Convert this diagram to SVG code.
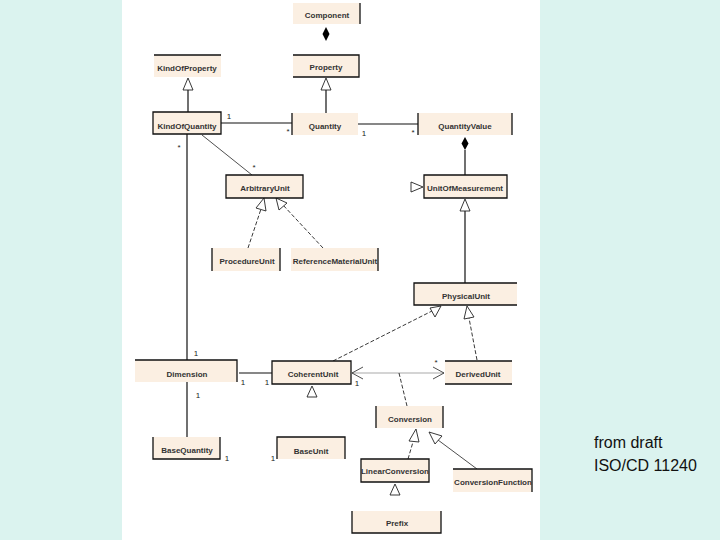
<svg xmlns="http://www.w3.org/2000/svg" width="720" height="540" viewBox="0 0 720 540">
<defs>
<style>
.bg{fill:#dbf3ef}
.panel{fill:#ffffff}
.box{fill:#fbefe2}
.bd{fill:none;stroke:#111;stroke-width:1.3}
.lbl{font-family:"Liberation Sans",Arial,sans-serif;font-size:8px;font-weight:bold;fill:#333;text-anchor:middle}
.m{font-family:"Liberation Sans",Arial,sans-serif;font-size:8px;fill:#222;text-anchor:middle}
.ln{fill:none;stroke:#111;stroke-width:1.2}
.thin{fill:none;stroke:#222;stroke-width:0.8}
.dash{fill:none;stroke:#222;stroke-width:0.9;stroke-dasharray:4,2}
.gray{fill:none;stroke:#aaa;stroke-width:1.2}
.tri{fill:#fff;stroke:#222;stroke-width:0.9}
.dia{fill:#000}
.note{font-family:"Liberation Sans",Arial,sans-serif;font-size:16px;fill:#111}
</style>
</defs>
<rect class="bg" x="0" y="0" width="720" height="540"/>
<rect class="panel" x="122" y="0" width="418" height="540"/>

<g id="connectors">
<!-- Component - Property composition -->
<path class="dia" d="M326,27 L329.5,34 L326,41 L322.5,34 Z"/>
<!-- KindOfProperty <- KindOfQuantity -->
<path class="ln" d="M188,90 V112"/>
<path class="tri" d="M188,78 L193,90 L183,90 Z"/>
<!-- Property <- Quantity -->
<path class="ln" d="M326,90 V113"/>
<path class="tri" d="M326,78 L331,90 L321,90 Z"/>
<!-- KindOfQuantity - Quantity -->
<path class="ln" d="M221,123 H292"/>
<text class="m" x="229" y="119">1</text>
<text class="m" x="288" y="134">*</text>
<!-- Quantity - QuantityValue -->
<path class="ln" d="M358,124 H418"/>
<text class="m" x="364" y="136">1</text>
<text class="m" x="413" y="135">*</text>
<!-- QuantityValue - UnitOfMeasurement composition -->
<path class="ln" d="M465,150 V175"/>
<path class="dia" d="M465,137 L468.5,143.5 L465,150 L461.5,143.5 Z"/>
<!-- small triangle left of UnitOfMeasurement -->
<path class="tri" d="M411,182 L423,187 L411,192 Z"/>
<!-- KindOfQuantity - Dimension -->
<path class="ln" d="M187,134 V360"/>
<text class="m" x="179" y="150">*</text>
<text class="m" x="196" y="356">1</text>
<!-- KindOfQuantity - ArbitraryUnit -->
<path class="thin" d="M202,135 L252,175"/>
<text class="m" x="254" y="170">*</text>
<!-- ProcedureUnit -> ArbitraryUnit -->
<path class="dash" d="M248,248 L261,209"/>
<path class="tri" d="M264,198 L266,211 L256,208 Z"/>
<!-- ReferenceMaterialUnit -> ArbitraryUnit -->
<path class="dash" d="M323,248 L283,205"/>
<path class="tri" d="M276,198 L287,203 L279,210 Z"/>
<!-- PhysicalUnit -> UnitOfMeasurement -->
<path class="ln" d="M465,211 V283"/>
<path class="tri" d="M465,199 L470,211 L460,211 Z"/>
<!-- CoherentUnit -> PhysicalUnit -->
<path class="dash" d="M333,361 L432,311"/>
<path class="tri" d="M441,306 L435,317 L430,308 Z"/>
<!-- DerivedUnit -> PhysicalUnit -->
<path class="dash" d="M477,360 L469,318"/>
<path class="tri" d="M467,306 L474,317 L464,319 Z"/>
<!-- Dimension - CoherentUnit -->
<path class="ln" d="M239,373 H272"/>
<text class="m" x="243" y="385">1</text>
<text class="m" x="267" y="385">1</text>
<!-- CoherentUnit - DerivedUnit -->
<path class="gray" d="M352,373 H444"/>
<path class="thin" d="M363,367 L352,373 L363,379"/>
<path class="thin" d="M433,367 L444,373 L433,379"/>
<text class="m" x="357" y="386">1</text>
<text class="m" x="436" y="365">*</text>
<!-- association class link -->
<path class="dash" d="M399,373 L407,406"/>
<!-- CoherentUnit triangle -->
<path class="tri" d="M312,386 L317,397 L307,397 Z"/>
<!-- Dimension - BaseQuantity -->
<path class="ln" d="M187,382 V437"/>
<text class="m" x="198" y="398">1</text>
<text class="m" x="227" y="461">1</text>
<text class="m" x="273" y="461">1</text>
<!-- LinearConversion -> Conversion -->
<path class="dash" d="M408,459 L413,442"/>
<path class="tri" d="M416,429 L419,442 L409,441 Z"/>
<!-- ConversionFunction -> Conversion -->
<path class="thin" d="M477,469 L438,440"/>
<path class="tri" d="M429,432 L442,436 L435,444 Z"/>
<!-- Prefix -> LinearConversion -->
<path class="tri" d="M395,484 L400,495 L390,495 Z"/>
</g>

<g id="Component">
<rect class="box" x="293" y="3" width="67" height="21"/>
<path class="bd" d="M360,3 V24"/>
<text class="lbl" x="327" y="18">Component</text>
</g>
<g id="KindOfProperty">
<rect class="box" x="154" y="55" width="67" height="22"/>
<path class="bd" d="M154,55 H221"/>
<text class="lbl" x="187" y="71">KindOfProperty</text>
</g>
<g id="Property">
<rect class="box" x="293" y="55" width="66" height="22"/>
<path class="bd" d="M293,55 H359 V77 H293"/>
<text class="lbl" x="326" y="70">Property</text>
</g>
<g id="KindOfQuantity">
<rect class="box" x="153" y="112" width="68" height="22"/>
<path class="bd" d="M153,112 H221 V134 H153 Z"/>
<text class="lbl" x="187" y="129">KindOfQuantity</text>
</g>
<g id="Quantity">
<rect class="box" x="292" y="113" width="66" height="22"/>
<path class="bd" d="M292,113 V135"/>
<text class="lbl" x="325" y="129">Quantity</text>
</g>
<g id="QuantityValue">
<rect class="box" x="418" y="113" width="94" height="22"/>
<path class="bd" d="M418,113 V135 M512,113 V135"/>
<text class="lbl" x="465" y="129">QuantityValue</text>
</g>
<g id="ArbitraryUnit">
<rect class="box" x="226" y="175" width="77" height="23"/>
<path class="bd" d="M226,175 H303 V198 H226 Z"/>
<text class="lbl" x="265" y="191">ArbitraryUnit</text>
</g>
<g id="UnitOfMeasurement">
<rect class="box" x="424" y="175" width="83" height="23"/>
<path class="bd" d="M424,175 H507 V198 H424 Z"/>
<text class="lbl" x="465" y="191">UnitOfMeasurement</text>
</g>
<g id="ProcedureUnit">
<rect class="box" x="212" y="248" width="68" height="23"/>
<path class="bd" d="M212,248 V271 M280,248 V271"/>
<text class="lbl" x="247" y="264">ProcedureUnit</text>
</g>
<g id="ReferenceMaterialUnit">
<rect class="box" x="291" y="248" width="87" height="23"/>
<path class="bd" d="M378,248 V271"/>
<text class="lbl" x="335" y="264">ReferenceMaterialUnit</text>
</g>
<g id="PhysicalUnit">
<rect class="box" x="414" y="283" width="103" height="22"/>
<path class="bd" d="M517,283 H414 V305 H517"/>
<text class="lbl" x="466" y="299">PhysicalUnit</text>
</g>
<g id="Dimension">
<rect class="box" x="135" y="360" width="102" height="22"/>
<path class="bd" d="M135,360 H237 V382"/>
<text class="lbl" x="187" y="377">Dimension</text>
</g>
<g id="CoherentUnit">
<rect class="box" x="272" y="361" width="79" height="23"/>
<path class="bd" d="M272,361 H351 V384 H272 Z"/>
<text class="lbl" x="313" y="377">CoherentUnit</text>
</g>
<g id="DerivedUnit">
<rect class="box" x="445" y="361" width="67" height="23"/>
<path class="bd" d="M445,361 H512 M445,384 H512"/>
<text class="lbl" x="478" y="377">DerivedUnit</text>
</g>
<g id="Conversion">
<rect class="box" x="376" y="406" width="67" height="22"/>
<path class="bd" d="M376,406 V428 M443,406 V428"/>
<text class="lbl" x="410" y="422">Conversion</text>
</g>
<g id="BaseQuantity">
<rect class="box" x="153" y="437" width="67" height="22"/>
<path class="bd" d="M153,437 V459 H220 V437"/>
<text class="lbl" x="187" y="453">BaseQuantity</text>
</g>
<g id="BaseUnit">
<rect class="box" x="277" y="437" width="68" height="22"/>
<path class="bd" d="M277,459 V437 H345 V459"/>
<text class="lbl" x="311" y="454">BaseUnit</text>
</g>
<g id="LinearConversion">
<rect class="box" x="361" y="459" width="68" height="23"/>
<path class="bd" d="M361,459 H429 V482 H361 Z"/>
<text class="lbl" x="395" y="474">LinearConversion</text>
</g>
<g id="ConversionFunction">
<rect class="box" x="453" y="469" width="79" height="23"/>
<path class="bd" d="M453,469 H532 V492"/>
<text class="lbl" x="493" y="485">ConversionFunction</text>
</g>
<g id="Prefix">
<rect class="box" x="352" y="511" width="89" height="22"/>
<path class="bd" d="M352,511 V533 H441 V511"/>
<text class="lbl" x="397" y="526">Prefix</text>
</g>

<g id="note">
<text class="note" x="594" y="448">from draft</text>
<text class="note" x="594" y="471">ISO/CD 11240</text>
</g>
</svg>
